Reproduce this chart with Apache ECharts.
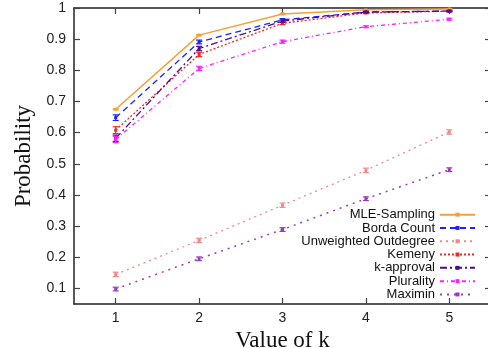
<!DOCTYPE html>
<html>
<head>
<meta charset="utf-8">
<script src="https://cdn.jsdelivr.net/npm/echarts@6/dist/echarts.min.js"></script>
<style>
  html, body { margin: 0; padding: 0; background: #fff; }
  #chart { width: 488px; height: 348px; }
</style>
</head>
<body>
<div id="chart"></div>
<script>
// values of k on the x axis
const kValues = [1, 2, 3, 4, 5];
const yTicks = [0.1, 0.2, 0.3, 0.4, 0.5, 0.6, 0.7, 0.8, 0.9, 1];

const seriesNames = ["MLE-Sampling", "Borda Count", "Unweighted Outdegree", "Kemeny", "k-approval", "Plurality", "Maximin"];

const mleSampling = [0.675, 0.913, 0.981, 0.994, 0.997];
const bordaCount = [0.648, 0.891, 0.962, 0.987, 0.990];
const unweightedOutdegree = [0.145, 0.254, 0.367, 0.479, 0.602];
const kemeny = [0.608, 0.851, 0.951, 0.984, 0.990];
const kApproval = [0.582, 0.870, 0.958, 0.987, 0.990];
const plurality = [0.578, 0.806, 0.892, 0.940, 0.964];
const maximin = [0.098, 0.195, 0.289, 0.388, 0.481];

// half-width of the error bars
const mleErr = [0.002, 0.002, 0.002, 0.001, 0.001];
const bordaErr = [0.009, 0.006, 0.004, 0.002, 0.002];
const unweightedErr = [0.007, 0.007, 0.007, 0.007, 0.007];
const kemenyErr = [0.011, 0.007, 0.004, 0.002, 0.002];
const kApprovalErr = [0.010, 0.007, 0.004, 0.002, 0.002];
const pluralityErr = [0.010, 0.007, 0.005, 0.003, 0.003];
const maximinErr = [0.006, 0.006, 0.006, 0.006, 0.006];

const allValues = [mleSampling, bordaCount, unweightedOutdegree, kemeny, kApproval, plurality, maximin];
const allErrs = [mleErr, bordaErr, unweightedErr, kemenyErr, kApprovalErr, pluralityErr, maximinErr];

const colors = ["#f7a035", "#1f1fff", "#ee8a8a", "#ff2020", "#4b0f8c", "#ff20ff", "#9a3cb8"];
const dashes = ["solid", [6, 4], [2, 4], [2, 2], [7, 3, 2, 3], [4, 3, 1, 3], [2, 5]];
const widths = [1.5, 1.3, 1.3, 1.3, 1.3, 1.3, 1.5];

const chart = echarts.init(document.getElementById("chart"));

const lineSeries = seriesNames.map((name, i) => ({
  name: name,
  type: "line",
  xAxisIndex: 0,
  yAxisIndex: 0,
  data: kValues.map((k, j) => [k, allValues[i][j]]),
  symbol: "rect",
  symbolSize: 3,
  itemStyle: { color: colors[i] },
  lineStyle: { color: colors[i], width: widths[i], type: dashes[i] },
  z: 3 + i,
}));

const errSeries = seriesNames.map((name, i) => ({
  name: "err-" + i,
  type: "custom",
  xAxisIndex: 0,
  yAxisIndex: 0,
  data: kValues.map((k, j) => [k, allValues[i][j] - allErrs[i][j], allValues[i][j] + allErrs[i][j]]),
  renderItem: (params, api) => {
    const lo = api.coord([api.value(0), api.value(1)]);
    const hi = api.coord([api.value(0), api.value(2)]);
    const hw = 3;
    const style = { stroke: colors[i], lineWidth: 1.2, fill: null };
    return {
      type: "group",
      children: [
        { type: "line", shape: { x1: lo[0], y1: lo[1], x2: hi[0], y2: hi[1] }, style },
        { type: "line", shape: { x1: lo[0] - hw, y1: lo[1], x2: lo[0] + hw, y2: lo[1] }, style },
        { type: "line", shape: { x1: hi[0] - hw, y1: hi[1], x2: hi[0] + hw, y2: hi[1] }, style },
      ],
    };
  },
  z: 3 + i,
  silent: true,
}));

const axisLine = { show: true, lineStyle: { color: "#222", width: 1.5 } };
const tickStyle = { show: true, inside: true, length: 6, lineStyle: { color: "#444", width: 1.2 } };

chart.setOption({
  animation: false,
  grid: { left: 74, top: 8, right: -3, bottom: 44, containLabel: false, outerBoundsMode: "none" },
  xAxis: [
    {
      type: "value",
      min: 0.5,
      max: 5.5,
      interval: 1,
      position: "bottom",
      axisLine: axisLine,
      axisTick: { ...tickStyle, customValues: kValues },
      axisLabel: {
        customValues: kValues,
        color: "#222",
        fontFamily: "Liberation Sans",
        fontSize: 14,
        margin: 7,
      },
      splitLine: { show: false },
      name: "Value of k",
      nameLocation: "middle",
      nameGap: 17,
      nameTextStyle: { fontFamily: "Liberation Serif", fontSize: 23, color: "#111" },
    },
    {
      type: "value",
      min: 0.5,
      max: 5.5,
      position: "top",
      axisLine: axisLine,
      axisTick: { ...tickStyle, customValues: kValues },
      axisLabel: { show: false },
      splitLine: { show: false },
    },
  ],
  yAxis: [
    {
      type: "value",
      min: 0.05,
      max: 1,
      position: "left",
      axisLine: axisLine,
      axisTick: { ...tickStyle, customValues: yTicks },
      axisLabel: {
        customValues: yTicks,
        formatter: (v) => String(+v.toFixed(1)),
        color: "#222",
        fontFamily: "Liberation Sans",
        fontSize: 14,
        margin: 8,
      },
      splitLine: { show: false },
      name: "Probability",
      nameLocation: "middle",
      nameGap: 34,
      nameTextStyle: { fontFamily: "Liberation Serif", fontSize: 23, color: "#111" },
    },
    {
      type: "value",
      min: 0.05,
      max: 1,
      position: "right",
      axisLine: axisLine,
      axisTick: { ...tickStyle, customValues: yTicks },
      axisLabel: { show: false },
      splitLine: { show: false },
    },
  ],
  legend: {
    data: seriesNames,
    orient: "vertical",
    right: 12,
    top: 208,
    align: "right",
    itemWidth: 35,
    itemHeight: 5,
    itemGap: 0,
    padding: 0,
    textStyle: {
      fontFamily: "Liberation Sans",
      fontSize: 13,
      lineHeight: 13.3,
      color: "#111",
      width: 150,
      align: "right",
    },
  },
  series: [...errSeries, ...lineSeries],
});
</script>
</body>
</html>
